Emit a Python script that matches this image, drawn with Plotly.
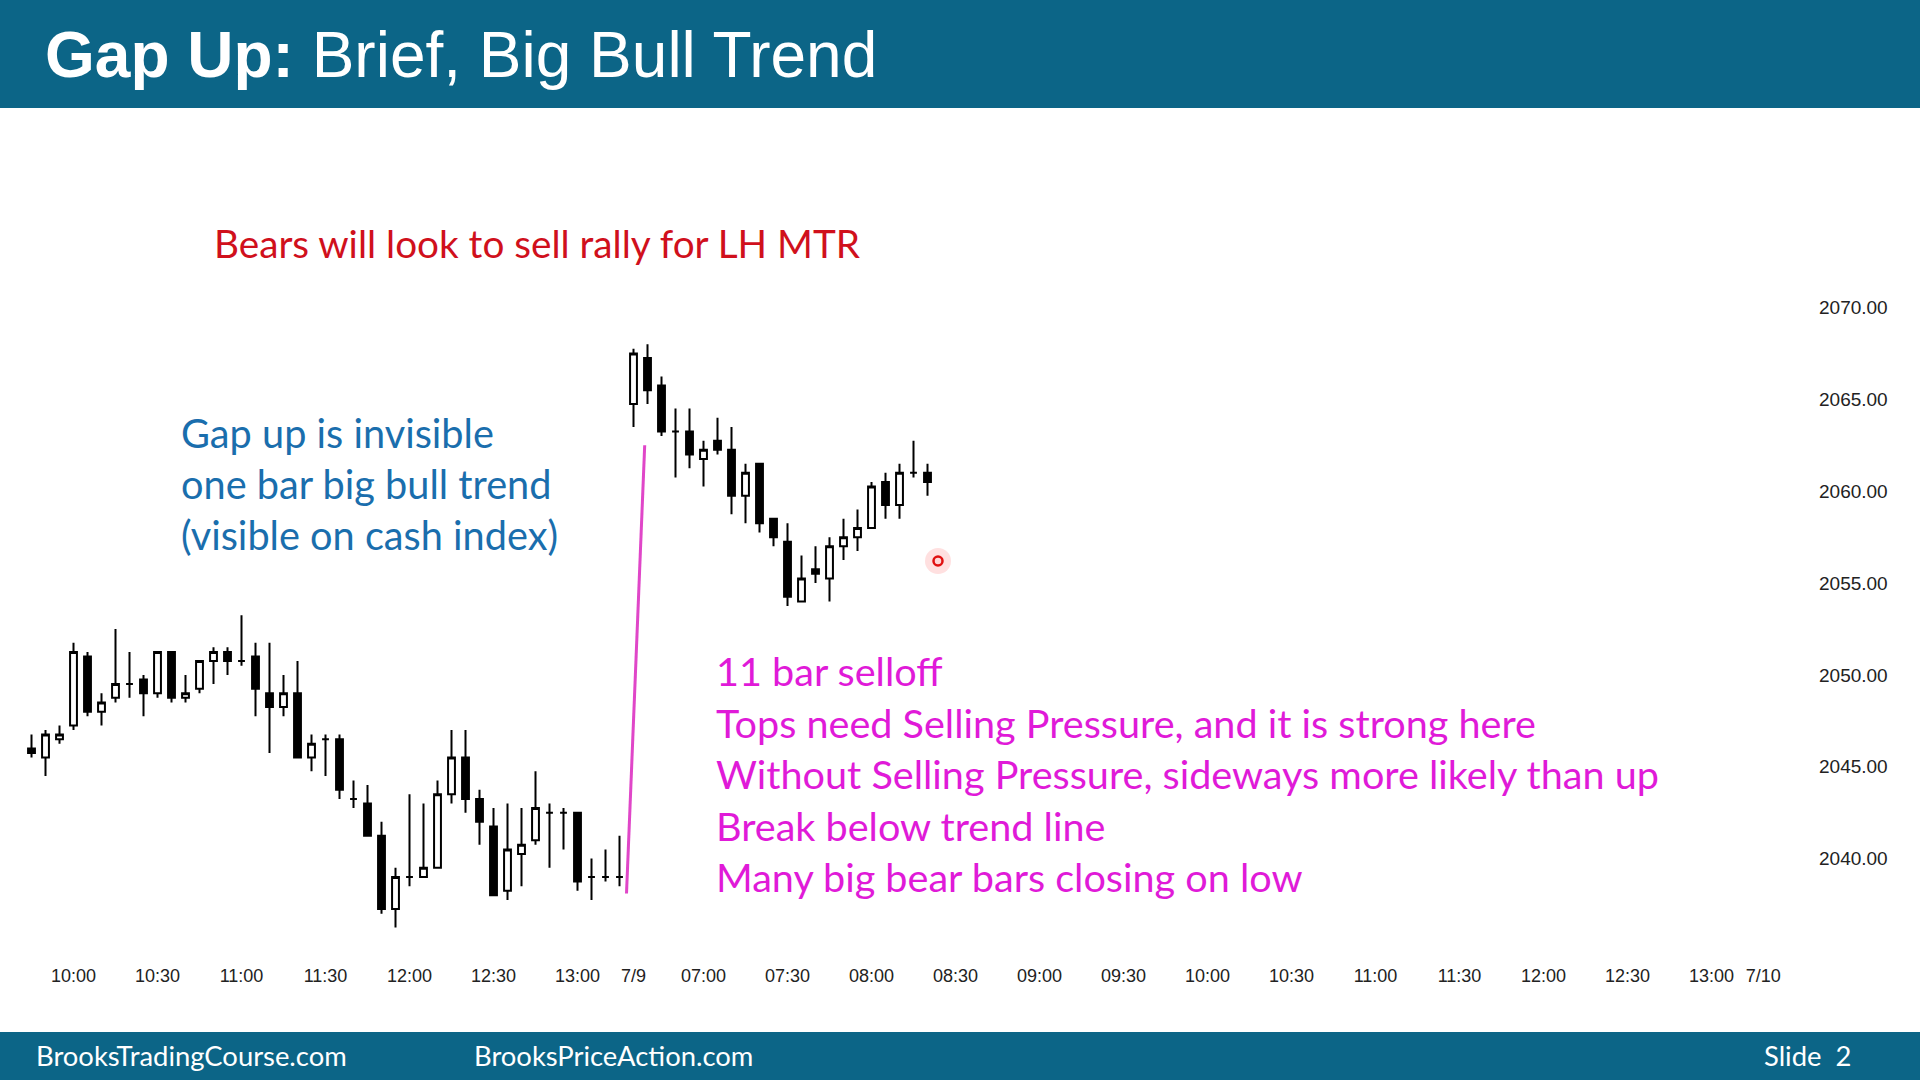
import plotly.graph_objects as go

# ---------------- data ----------------
# bar slot index (5-minute bars, end-time stamped); day 1 = 7/8, day 2 = 7/9 (session gap removed)
bar_slot = list(range(-3, 62))

opens = [2046.0, 2045.5, 2046.5, 2047.25, 2051.0, 2048.0, 2048.75, 2049.5, 2049.75, 2049.0,
         2051.25, 2048.75, 2049.25, 2050.75, 2051.25, 2050.75, 2051.0, 2049.0, 2048.25, 2049.0,
         2045.5, 2046.5, 2046.5, 2043.25, 2043.0, 2041.25, 2037.25, 2039.0, 2039.0, 2039.5,
         2043.5, 2045.5, 2043.25, 2041.75, 2038.25, 2040.25, 2041.0, 2042.5, 2042.5, 2042.5,
         2039.0, 2039.0, 2039.0,
         2064.75, 2067.25, 2065.75, 2063.25, 2063.25, 2061.75, 2062.75, 2062.25, 2059.75, 2061.5,
         2058.5, 2057.25, 2054.0, 2055.75, 2055.25, 2057.0, 2057.5, 2058.0, 2060.5, 2059.25,
         2061.0, 2061.0]
highs = [2046.75, 2047.0, 2047.25, 2051.75, 2051.25, 2049.0, 2052.5, 2051.25, 2050.0, 2051.25,
         2051.25, 2050.0, 2050.75, 2051.5, 2051.5, 2053.25, 2051.75, 2051.75, 2050.0, 2050.75,
         2046.75, 2046.75, 2046.75, 2044.25, 2044.0, 2042.0, 2039.5, 2043.5, 2043.0, 2044.25,
         2047.0, 2047.0, 2043.75, 2042.75, 2043.0, 2042.75, 2044.75, 2043.0, 2042.75, 2042.5,
         2040.0, 2040.5, 2041.25,
         2067.75, 2068.0, 2066.25, 2064.5, 2064.5, 2062.75, 2064.0, 2063.5, 2061.5, 2061.5,
         2058.5, 2058.25, 2056.5, 2057.0, 2057.5, 2058.5, 2059.0, 2060.5, 2061.0, 2061.5,
         2062.75, 2061.5]
lows = [2045.5, 2044.5, 2046.25, 2047.0, 2047.75, 2047.25, 2048.5, 2048.75, 2047.75, 2048.75,
        2048.5, 2048.5, 2049.0, 2049.5, 2050.0, 2050.5, 2047.75, 2045.75, 2047.75, 2045.5,
        2044.75, 2044.5, 2043.25, 2042.75, 2041.25, 2037.0, 2036.25, 2038.5, 2039.0, 2039.5,
        2043.0, 2042.5, 2040.75, 2038.0, 2037.75, 2038.5, 2040.75, 2039.5, 2040.5, 2038.25,
        2037.75, 2038.75, 2038.5,
        2063.5, 2064.75, 2063.0, 2060.75, 2061.25, 2060.25, 2062.0, 2058.75, 2058.25, 2057.75,
        2057.0, 2053.75, 2054.0, 2055.0, 2054.0, 2056.25, 2056.75, 2058.0, 2058.5, 2058.5,
        2060.75, 2059.75]
closes = [2045.75, 2046.75, 2046.75, 2051.25, 2048.0, 2048.5, 2049.5, 2049.5, 2049.0, 2051.25,
          2048.75, 2049.0, 2050.75, 2051.25, 2050.75, 2050.75, 2049.25, 2048.25, 2049.0, 2045.5,
          2046.25, 2046.5, 2043.75, 2043.25, 2041.25, 2037.25, 2039.0, 2039.0, 2039.5, 2043.5,
          2045.5, 2043.25, 2042.0, 2038.0, 2040.5, 2040.75, 2042.75, 2042.5, 2042.5, 2038.75,
          2039.0, 2039.0, 2039.0,
          2067.5, 2065.5, 2063.25, 2063.25, 2062.0, 2062.25, 2062.25, 2059.75, 2061.0, 2058.25,
          2057.5, 2054.25, 2055.25, 2055.5, 2057.0, 2057.5, 2058.0, 2060.25, 2059.25, 2061.0,
          2061.0, 2060.5]

tick_slots = [0, 6, 12, 18, 24, 30, 36, 40, 45, 51, 57, 63, 69, 75, 81, 87, 93, 99, 105, 111, 117, 120.7]
tick_labels = ["10:00", "10:30", "11:00", "11:30", "12:00", "12:30", "13:00", "7/9",
               "07:00", "07:30", "08:00", "08:30", "09:00", "09:30", "10:00", "10:30",
               "11:00", "11:30", "12:00", "12:30", "13:00", "7/10"]
price_ticks = [2040, 2045, 2050, 2055, 2060, 2065, 2070]
price_labels = ["2040.00", "2045.00", "2050.00", "2055.00", "2060.00", "2065.00", "2070.00"]

gap_line_x = [39.5, 40.8]
gap_line_y = [2038.1, 2062.5]
pointer_x = [61.75]
pointer_y = [2056.2]

title_bold = "Gap Up:"
title_rest = "Brief, Big Bull Trend"
red_note = "Bears will look to sell rally for LH MTR"
blue_notes = ["Gap up is invisible", "one bar big bull trend", "(visible on cash index)"]
magenta_notes = ["11 bar selloff",
                 "Tops need Selling Pressure, and it is strong here",
                 "Without Selling Pressure, sideways more likely than up",
                 "Break below trend line",
                 "Many big bear bars closing on low"]
footer_left = "BrooksTradingCourse.com"
footer_mid = "BrooksPriceAction.com"
footer_right = "Slide  2"

# ---------------- layout geometry (pixels) ----------------
W, H = 1920, 1080
PL, PR, PT, PB = 24, 1818, 115, 963
X0PX, XSTEP = 73.5, 14.0          # pixel of slot 0, pixels per slot
Y0PX, YSTEP, YREF = 307.5, 18.37, 2070.0


def px2x(px):
    return (px - X0PX) / XSTEP


def py2y(py):
    return YREF - (py - Y0PX) / YSTEP


def pxp(px):
    return (px - PL) / (PR - PL)


def pyp(py):
    return (PB - py) / (PB - PT)


BAR = "#0c6587"
SLIDE_FONT = "Lato, 'Open Sans', sans-serif"
ARIAL = "'Liberation Sans', Arial, sans-serif"

fig = go.Figure()
fig.add_trace(go.Candlestick(
    x=bar_slot, open=opens, high=highs, low=lows, close=closes,
    increasing=dict(line=dict(color="black", width=2), fillcolor="white"),
    decreasing=dict(line=dict(color="black", width=2), fillcolor="black"),
    whiskerwidth=0, hoverinfo="skip", showlegend=False,
))
fig.add_trace(go.Scatter(
    x=gap_line_x, y=gap_line_y, mode="lines",
    line=dict(color="#e046c8", width=3), hoverinfo="skip", showlegend=False,
))
fig.add_trace(go.Scatter(
    x=pointer_x, y=pointer_y, mode="markers",
    marker=dict(size=26, color="rgba(255,60,60,0.16)", line=dict(width=0)),
    hoverinfo="skip", showlegend=False,
))
fig.add_trace(go.Scatter(
    x=pointer_x, y=pointer_y, mode="markers",
    marker=dict(size=9, color="#ffd6d6", line=dict(color="#e01010", width=2.5)),
    hoverinfo="skip", showlegend=False,
))

shapes = [
    dict(type="rect", xref="paper", yref="paper", x0=pxp(0), x1=pxp(W), y0=pyp(108), y1=pyp(0),
         fillcolor=BAR, line=dict(width=0), layer="above"),
    dict(type="rect", xref="paper", yref="paper", x0=pxp(0), x1=pxp(W), y0=pyp(H), y1=pyp(1032),
         fillcolor=BAR, line=dict(width=0), layer="above"),
]

ann = []


def add_text(text, px, py, size, color, family, xanchor="left"):
    ann.append(dict(text=text, x=pxp(px), y=pyp(py), xref="paper", yref="paper",
                    xanchor=xanchor, yanchor="middle", showarrow=False,
                    font=dict(size=size, color=color, family=family)))


add_text("<b>" + title_bold + "</b> " + title_rest, 42.5, 55, 64, "white", ARIAL)
add_text(red_note, 212, 243.5, 38.7, "#d0101c", SLIDE_FONT)
for line, py in zip(blue_notes, [432, 483.5, 534.5]):
    add_text(line, 178.5, py, 39.7, "#1a6ead", SLIDE_FONT)
for line, py in zip(magenta_notes, [670.5, 722.5, 773.5, 825.5, 876.5]):
    add_text(line, 713.5, py, 39.6, "#e01ad8", SLIDE_FONT)
add_text(footer_left, 33.5, 1055, 27.4, "white", SLIDE_FONT)
add_text(footer_mid, 471.5, 1055, 27.4, "white", SLIDE_FONT)
add_text(footer_right, 1853, 1055, 27.4, "white", SLIDE_FONT, xanchor="right")

fig.update_layout(
    width=W, height=H,
    margin=dict(l=PL, r=W - PR, t=PT, b=H - PB, pad=0),
    paper_bgcolor="white", plot_bgcolor="white",
    shapes=shapes, annotations=ann,
    showlegend=False,
    xaxis=dict(range=[px2x(PL), px2x(PR)], tickmode="array", tickvals=tick_slots,
               ticktext=tick_labels, showgrid=False, zeroline=False, showline=False,
               ticks="", rangeslider=dict(visible=False), fixedrange=True,
               tickfont=dict(family=ARIAL, size=18, color="#222")),
    yaxis=dict(range=[py2y(PB), py2y(PT)], side="right", tickmode="array",
               tickvals=price_ticks, ticktext=price_labels, showgrid=False,
               zeroline=False, showline=False, ticks="", fixedrange=True,
               tickfont=dict(family=ARIAL, size=19, color="#222")),
)

fig.write_html("out.html")
